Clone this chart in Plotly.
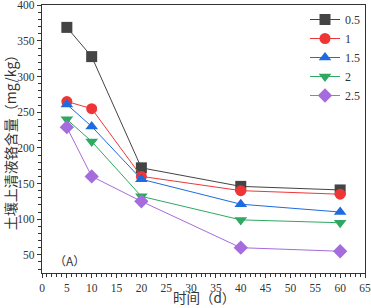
import plotly.graph_objects as go

days = [5, 10, 20, 40, 60]
names = ["0.5", "1", "1.5", "2", "2.5"]
s05 = [369, 328, 172, 146, 141]
s1 = [265, 255, 160, 140, 135]
s15 = [261, 230, 156, 121, 110]
s2 = [240, 209, 132, 99, 95]
s25 = [229, 160, 125, 60, 55]
series = [s05, s1, s15, s2, s25]
colors = ["#444444", "#ef3636", "#1d6be0", "#2fa862", "#a46cdc"]
symbols = ["square", "circle", "triangle-up", "triangle-down", "diamond"]

FONT = "Liberation Serif, Noto Sans CJK SC"
CJK = "Noto Sans CJK SC"

fig = go.Figure()
for n, v, c, s in zip(names, series, colors, symbols):
    fig.add_trace(go.Scatter(
        x=days, y=v, name=n, mode="lines+markers",
        line=dict(color=c, width=1),
        marker=dict(symbol=s, size=11, color=c, line=dict(width=0)),
    ))

axis_common = dict(
    showline=True, linecolor="#333", linewidth=1.2, mirror=True,
    ticks="outside", tickcolor="#333", ticklen=4, showgrid=False, zeroline=False,
    tickfont=dict(family=FONT, size=11.5, color="#333"),
    minor=dict(ticks="outside", ticklen=2.5, tickcolor="#333"),
    automargin=True, ticklabeloverflow="allow",
)
fig.update_xaxes(range=[0, 65], dtick=5, **axis_common)
fig.update_yaxes(range=[24.5, 400.4], dtick=50, tick0=0, title=dict(text="土壤上清液铬含量（mg/kg）", font=dict(family=CJK, size=14, color="#333"), standoff=1), **axis_common)

fig.add_annotation(x=0.5, y=0.0, xref="paper", yref="paper", text="时间（d）", showarrow=False,
                   xanchor="center", yanchor="bottom", yshift=-36, font=dict(family=CJK, size=13.5, color="#333"))
fig.add_annotation(x=0.03, y=0.0, xref="paper", yref="paper", text="（A）", showarrow=False,
                   xanchor="left", yanchor="bottom", yshift=2, font=dict(family=CJK, size=12, color="#333"))

fig.update_layout(
    width=371, height=308, margin=dict(l=42, r=6, t=5, b=35, autoexpand=False),
    plot_bgcolor="white", paper_bgcolor="white",
    legend=dict(x=1.0, y=1.0, xanchor="right", yanchor="top", bgcolor="rgba(0,0,0,0)",
                font=dict(family=FONT, size=12, color="#333"), itemwidth=30, tracegroupgap=0),
)
fig.write_html("out.html", config={"displayModeBar": False},
               post_script="document.body.style.margin='0';document.body.style.padding='0';")
